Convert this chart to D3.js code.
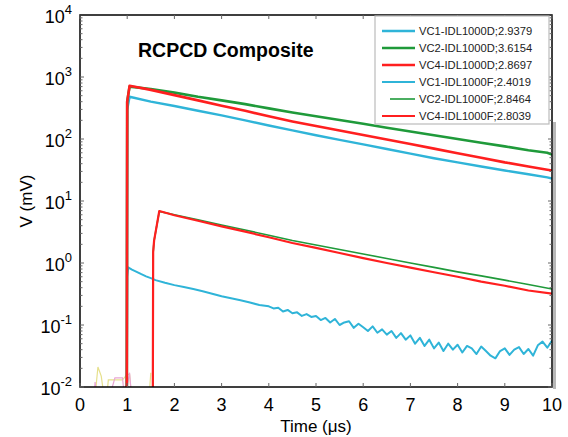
<!DOCTYPE html>
<html>
<head>
<meta charset="utf-8">
<script src="https://cdn.jsdelivr.net/npm/d3@7"></script>
<style>
  body { margin: 0; background: #fff; }
  text { font-family: "Liberation Sans", Arial, sans-serif; }
</style>
</head>
<body>
<script>
// Upper group (IDL1000D) - sampled times and values in mV
const tD = [0, 0.99, 1.0, 1.05, 1.5, 2, 2.5, 3, 3.5, 4, 4.5, 5, 5.5, 6, 6.5, 7, 7.5, 8, 8.5, 9, 9.5, 9.9, 10];
const vc1D = [0.001, 0.001, 300, 480, 400, 340, 285, 240, 200, 165, 138, 115, 97, 82, 69, 58, 49, 42, 36, 31, 27, 24, 23];
const vc2D = [0.001, 0.001, 400, 700, 640, 560, 480, 420, 365, 312, 268, 232, 202, 176, 152, 132, 115, 100, 87, 76, 66, 60, 56];
const vc4D = [0.001, 0.001, 400, 720, 620, 510, 420, 345, 285, 232, 192, 162, 137, 116, 98, 83, 70, 59, 50, 42, 36, 32, 31];

// Lower group (IDL1000F)
const tF1 = [0, 0.99, 1.0, 1.02, 1.1, 1.2, 1.3, 1.4, 1.5, 1.6, 1.8, 2.0, 2.2, 2.4, 2.6, 2.8, 3.0, 3.2, 3.4, 3.6, 3.8,
  4.0, 4.1, 4.2, 4.3, 4.4, 4.5, 4.6, 4.7, 4.8, 4.9, 5.0, 5.1, 5.2, 5.3, 5.4, 5.5, 5.6, 5.7, 5.8, 5.9,
  6.0, 6.1, 6.2, 6.3, 6.4, 6.5, 6.6, 6.7, 6.8, 6.9, 7.0, 7.1, 7.2, 7.3, 7.4, 7.5, 7.6, 7.7, 7.8, 7.9,
  8.0, 8.1, 8.2, 8.3, 8.4, 8.5, 8.6, 8.7, 8.8, 8.9, 9.0, 9.1, 9.2, 9.3, 9.4, 9.5, 9.6, 9.7, 9.8, 9.9, 10];
const vc1F = [0.001, 0.001, 0.6, 0.85, 0.78, 0.72, 0.66, 0.61, 0.57, 0.53, 0.48, 0.44, 0.41, 0.38, 0.35, 0.32, 0.29, 0.27, 0.25, 0.23, 0.21,
  0.2, 0.185, 0.19, 0.165, 0.175, 0.155, 0.16, 0.14, 0.15, 0.135, 0.14, 0.12, 0.13, 0.11, 0.125, 0.1, 0.11, 0.115, 0.09, 0.105,
  0.092, 0.08, 0.095, 0.075, 0.085, 0.07, 0.08, 0.062, 0.074, 0.058, 0.068, 0.05, 0.062, 0.046, 0.058, 0.042, 0.052, 0.038, 0.05, 0.04,
  0.048, 0.036, 0.046, 0.042, 0.034, 0.045, 0.038, 0.032, 0.029, 0.038, 0.042, 0.033, 0.04, 0.044, 0.034, 0.041, 0.032, 0.047, 0.054, 0.043, 0.056];
const tF = [0, 1.54, 1.55, 1.57, 1.68, 2, 2.5, 3, 3.5, 4, 4.5, 5, 5.5, 6, 6.5, 7, 7.5, 8, 8.5, 9, 9.5, 10];
const vc2F = [0.001, 0.001, 1.5, 2.3, 6.8, 6.0, 5.0, 4.1, 3.4, 2.8, 2.3, 1.95, 1.65, 1.4, 1.18, 1.0, 0.85, 0.72, 0.62, 0.53, 0.45, 0.38];
const vc4F = [0.001, 0.001, 1.5, 2.3, 6.9, 5.9, 4.8, 3.9, 3.2, 2.6, 2.1, 1.75, 1.45, 1.2, 1.0, 0.84, 0.71, 0.6, 0.5, 0.43, 0.36, 0.32];

// faint traces near the floor before the pulses
const tNoiseA = [0.3, 0.38, 0.45, 0.5, 0.55, 0.6, 0.9, 1.0, 1.05, 1.1, 1.45, 1.5];
const noiseA = [0.005, 0.021, 0.015, 0.008, 0.005, 0.013, 0.013, 0.016, 0.016, 0.006, 0.005, 0.017];
const tNoiseB = [0.2, 0.28, 0.32, 0.36, 0.6, 0.74, 0.9, 0.95, 1.05, 1.1];
const noiseB = [0.005, 0.005, 0.012, 0.006, 0.006, 0.014, 0.014, 0.006, 0.017, 0.006];

const legendNames = ["VC1-IDL1000D;2.9379", "VC2-IDL1000D;3.6154", "VC4-IDL1000D;2.8697",
  "VC1-IDL1000F;2.4019", "VC2-IDL1000F;2.8464", "VC4-IDL1000F;2.8039"];

const cyan = "#2fb4d8", green = "#1f9a3a", red = "#ff1f1f";

const series = [
  { t: tD, v: vc1D, color: cyan, w: 2.4 },
  { t: tD, v: vc2D, color: green, w: 2.6 },
  { t: tD, v: vc4D, color: red, w: 2.6 },
  { t: tF1, v: vc1F, color: cyan, w: 2 },
  { t: tF, v: vc2F, color: green, w: 1.6 },
  { t: tF, v: vc4F, color: red, w: 2.2 }
];

const width = 568, height = 437;
const mLeft = 80, mRight = 552, mTop = 15, mBottom = 387;

const x = d3.scaleLinear().domain([0, 10]).range([mLeft, mRight]);
const y = d3.scaleLog().domain([1e-2, 1e4]).range([mBottom, mTop]);

const svg = d3.select("body").append("svg")
  .attr("width", width)
  .attr("height", height);

svg.append("defs").append("clipPath").attr("id", "plot")
  .append("rect").attr("x", mLeft).attr("y", mTop)
  .attr("width", mRight - mLeft).attr("height", mBottom - mTop);

// gray shade along right frame edge
svg.append("rect").attr("x", mRight + 1).attr("y", 122)
  .attr("width", 3).attr("height", mBottom - 122 + 2).attr("fill", "#b8b8b8");

const line = d3.line()
  .x(d => x(d[0]))
  .y(d => y(d[1]));

const plot = svg.append("g").attr("clip-path", "url(#plot)");

plot.append("path")
  .attr("d", line(d3.zip(tNoiseA, noiseA)))
  .attr("fill", "none").attr("stroke", "#e6e08c").attr("stroke-width", 1.2);
plot.append("path")
  .attr("d", line(d3.zip(tNoiseB, noiseB)))
  .attr("fill", "none").attr("stroke", "#e8a6d4").attr("stroke-width", 1.2);

// draw thinner F series first, D on top
[3, 4, 5, 0, 1, 2].forEach(i => {
  const s = series[i];
  plot.append("path")
    .attr("d", line(d3.zip(s.t, s.v)))
    .attr("fill", "none")
    .attr("stroke", s.color)
    .attr("stroke-width", s.w)
    .attr("stroke-linejoin", "round");
});

// frame
svg.append("rect")
  .attr("x", mLeft).attr("y", mTop)
  .attr("width", mRight - mLeft).attr("height", mBottom - mTop)
  .attr("fill", "none").attr("stroke", "#000").attr("stroke-width", 1.5);

// x ticks inside, top and bottom
const xt = d3.range(0, 11);
const ticks = svg.append("g").attr("stroke", "#666").attr("stroke-width", 1);
xt.forEach(t => {
  ticks.append("line").attr("x1", x(t)).attr("x2", x(t)).attr("y1", mBottom).attr("y2", mBottom - 4);
  ticks.append("line").attr("x1", x(t)).attr("x2", x(t)).attr("y1", mTop).attr("y2", mTop + 4);
});
// y ticks, major and minor
d3.range(-2, 4).forEach(e => {
  d3.range(1, 10).forEach(m => {
    const v = m * Math.pow(10, e);
    const len = m === 1 ? 4 : 2.5;
    ticks.append("line").attr("x1", mLeft).attr("x2", mLeft + len).attr("y1", y(v)).attr("y2", y(v));
    ticks.append("line").attr("x1", mRight).attr("x2", mRight - len).attr("y1", y(v)).attr("y2", y(v));
  });
});

// x tick labels
svg.append("g").selectAll("text")
  .data(xt).join("text")
  .attr("x", d => x(d)).attr("y", 411)
  .attr("text-anchor", "middle")
  .attr("font-size", 18)
  .text(d => d);

// y tick labels 10^n
const yExp = [-2, -1, 0, 1, 2, 3, 4];
const yl = svg.append("g").selectAll("text")
  .data(yExp).join("text")
  .attr("x", 72).attr("y", d => y(Math.pow(10, d)) + 8)
  .attr("text-anchor", "end")
  .attr("font-size", 18);
yl.append("tspan").text("10");
yl.append("tspan").attr("dy", -9).attr("font-size", 13).text(d => d);

svg.append("text")
  .attr("x", (mLeft + mRight) / 2).attr("y", 432)
  .attr("text-anchor", "middle").attr("font-size", 17)
  .text("Time (μs)");

svg.append("text")
  .attr("transform", `translate(32,${(mTop + mBottom) / 2}) rotate(-90)`)
  .attr("text-anchor", "middle").attr("font-size", 17)
  .text("V (mV)");

svg.append("text")
  .attr("x", 138).attr("y", 57)
  .attr("font-size", 19.5).attr("font-weight", "bold")
  .text("RCPCD Composite");

// legend
const lg = svg.append("g");
lg.append("rect")
  .attr("x", 375).attr("y", 16).attr("width", 174).attr("height", 108)
  .attr("fill", "#fff").attr("stroke", "#bbb").attr("stroke-width", 1.2);
legendNames.forEach((name, i) => {
  const ly = 31 + i * 17;
  const s = series[i];
  lg.append("line")
    .attr("x1", i === 4 ? 390 : 382).attr("x2", 415)
    .attr("y1", ly).attr("y2", ly)
    .attr("stroke", s.color).attr("stroke-width", s.w);
  lg.append("text")
    .attr("x", 419).attr("y", ly + 4)
    .attr("font-size", 11.2).attr("fill", "#222")
    .text(name);
});
</script>
</body>
</html>
